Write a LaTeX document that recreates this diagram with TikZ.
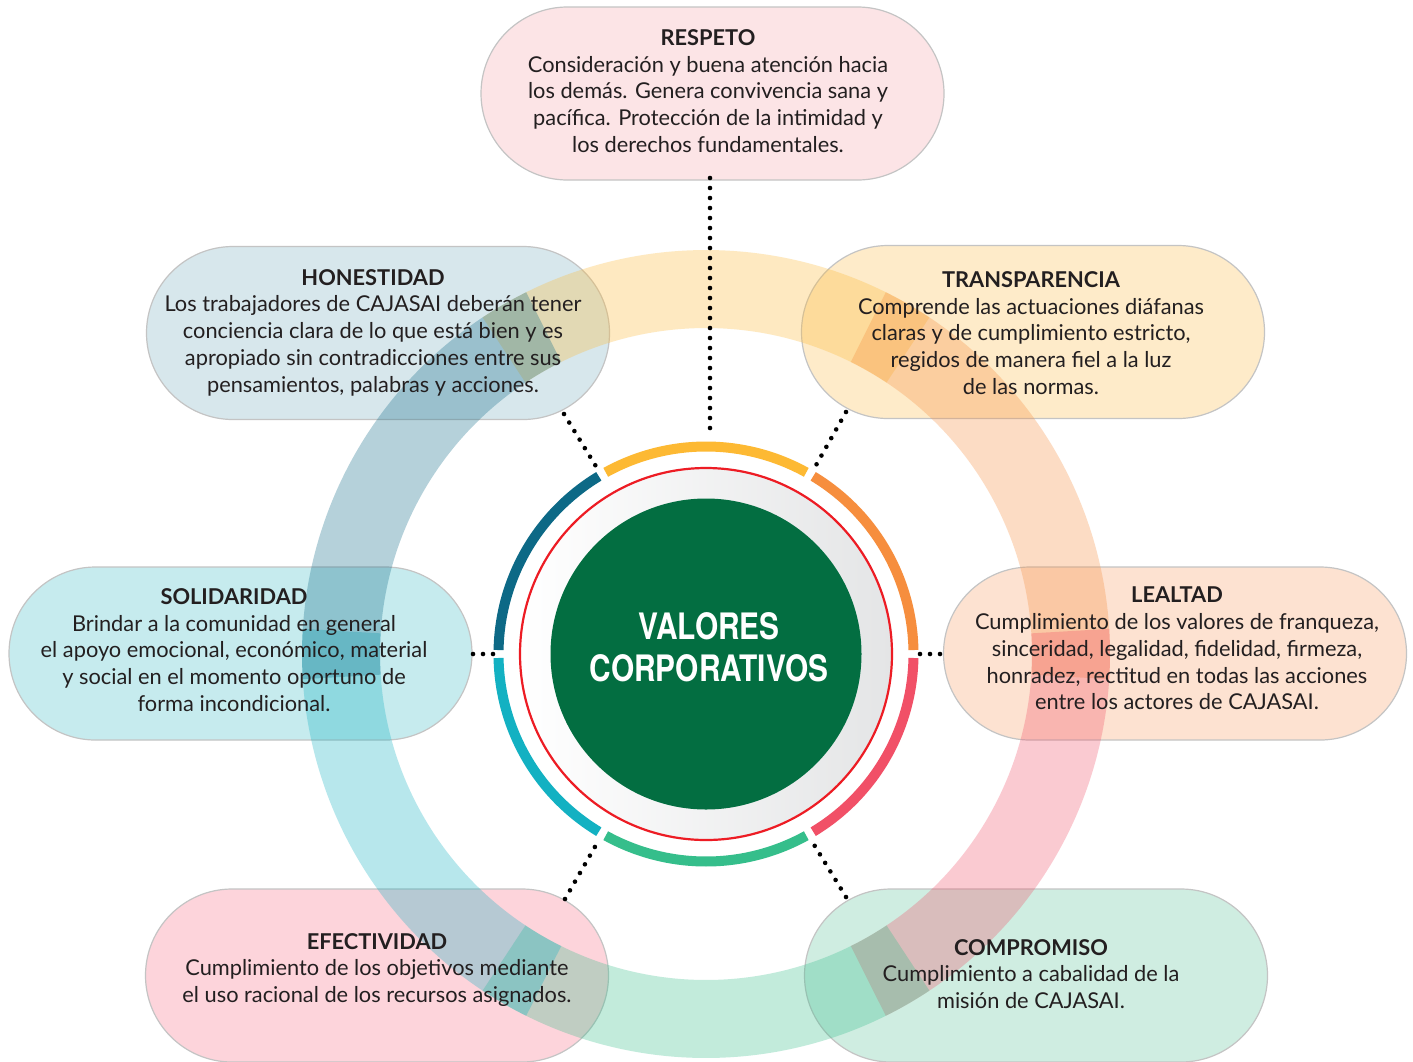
\documentclass[tikz,border=0pt]{standalone}
\usepackage{fontspec}
\setmainfont{Lato}
\newfontfamily\headfont[FakeStretch=0.82]{TeX Gyre Heros}
\usetikzlibrary{shapes.misc}
\definecolor{cyel}{HTML}{FDB933}
\definecolor{cora}{HTML}{F68E3E}
\definecolor{cpink}{HTML}{F15067}
\definecolor{cgrn}{HTML}{35BE8B}
\definecolor{cteal}{HTML}{13B1C2}
\definecolor{cblue}{HTML}{0D6986}
\definecolor{pres}{HTML}{FCE4E6}
\definecolor{phon}{HTML}{D7E7EC}
\definecolor{ptra}{HTML}{FEEBC9}
\definecolor{psol}{HTML}{C6EBEE}
\definecolor{plea}{HTML}{FDE2D1}
\definecolor{pefe}{HTML}{FDD4DB}
\definecolor{pcom}{HTML}{CFEDE1}
\definecolor{pillline}{HTML}{C4C4C4}
\definecolor{txt}{HTML}{231F20}
\definecolor{dgreen}{HTML}{036E41}
\definecolor{cred}{HTML}{ED1C24}
\definecolor{discgrey}{HTML}{E4E5E6}
\begin{document}
\begin{tikzpicture}[x=0.5pt,y=-0.5pt,
  pill/.style={rounded rectangle, draw=pillline, line width=0.6pt, minimum width=231.5pt, minimum height=86.5pt, inner sep=0pt},
  ringseg/.style={line width=39pt, draw opacity=0.3},
  innerarc/.style={line width=5pt},
  dotline/.style={line width=2.3pt, line cap=round, dash pattern=on 0pt off 5pt, draw=black},
  body/.style={align=center, text=txt, font=\fontsize{10.9}{13.35}\selectfont, inner sep=0pt},
  headtext/.style={align=center, text=white, font=\headfont\bfseries\fontsize{18.2}{21}\selectfont, inner sep=0pt}]
\useasboundingbox[fill=white] (0,0) rectangle (1413,1061);
% pills
\node[pill, fill=pres] (respeto) at (712.5,93.5) {};
\node[pill, fill=phon] (honestidad) at (378,333) {};
\node[pill, fill=ptra] (transparencia) at (1033,332) {};
\node[pill, fill=psol] (solidaridad) at (240.5,653.5) {};
\node[pill, fill=plea] (lealtad) at (1175,653.5) {};
\node[pill, fill=pefe] (efectividad) at (377,975.5) {};
\node[pill, fill=pcom] (compromiso) at (1036,975.5) {};
% big translucent ring
\coordinate (c) at (706,654);
\foreach \a/\b/\col in {-120/-60/cyel, -60/0/cora, 0/60/cpink, 60/120/cgrn, 120/180/cteal, 180/240/cblue}{
  \draw[ringseg, draw=\col] ([shift={(c)}]\a-3.6:365) arc[start angle=\a-3.6, end angle=\b+3.6, radius=365];
}
% central disc
\shade[left color=white, right color=discgrey] (c) circle[radius=186];
\draw[cred, line width=1.1pt] (c) circle[radius=186];
\node[circle, fill=dgreen, minimum size=155.5pt, inner sep=0pt] (disc) at (c) {};
% inner coloured arcs
\foreach \a/\b/\col in {-120/-60/cyel, -60/0/cora, 0/60/cpink, 60/120/cgrn, 120/180/cteal, 180/240/cblue}{
  \draw[innerarc, draw=\col] ([shift={(c)}]\a+1.1:207.5) arc[start angle=\a+1.1, end angle=\b-1.1, radius=207.5];
}
% dotted connectors
\coordinate (t1) at (710,178); \coordinate (t2) at (710,436);
\coordinate (ul1) at (564,414); \coordinate (ul2) at (597,468);
\coordinate (ur1) at (846,412); \coordinate (ur2) at (815,467);
\coordinate (l1) at (473,654); \coordinate (l2) at (494,654);
\coordinate (r1) at (940,654); \coordinate (r2) at (920,654);
\coordinate (ll1) at (565,899); \coordinate (ll2) at (596,845);
\coordinate (lr1) at (846,897); \coordinate (lr2) at (813,843);
\draw[dotline] (t1) -- (t2);
\draw[dotline] (ul1) -- (ul2);
\draw[dotline] (ur1) -- (ur2);
\draw[dotline] (l1) -- (l2);
\draw[dotline] (r1) -- (r2);
\draw[dotline] (ll1) -- (ll2);
\draw[dotline] (lr1) -- (lr2);
% centre text
\node[headtext] (vc) at (709,647) {VALORES\\CORPORATIVOS};
% texts
\node[body] (trespeto) at (708,91) {\textbf{RESPETO}\\Consideración y buena atención hacia\\los demás. Genera convivencia sana y\\pacífica. Protección de la intimidad y\\los derechos fundamentales.};
\node[body] (thonestidad) at (373,332.5) {\textbf{HONESTIDAD}\\Los trabajadores de CAJASAI deberán tener\\conciencia clara de lo que está bien y es\\apropiado sin contradicciones entre sus\\pensamientos, palabras y acciones.};
\node[body] (ttransparencia) at (1031,333) {\textbf{TRANSPARENCIA}\\Comprende las actuaciones diáfanas\\claras y de cumplimiento estricto,\\regidos de manera fiel a la luz\\de las normas.};
\node[body] (tsolidaridad) at (234,650) {\textbf{SOLIDARIDAD}\\Brindar a la comunidad en general\\el apoyo emocional, económico, material\\y social en el momento oportuno de\\forma incondicional.};
\node[body] (tlealtad) at (1177,648.5) {\textbf{LEALTAD}\\Cumplimiento de los valores de franqueza,\\sinceridad, legalidad, fidelidad, firmeza,\\honradez, rectitud en todas las acciones\\entre los actores de CAJASAI.};
\node[body] (tefectividad) at (377,970) {\textbf{EFECTIVIDAD}\\Cumplimiento de los objetivos mediante\\el uso racional de los recursos asignados.};
\node[body] (tcompromiso) at (1031,974) {\textbf{COMPROMISO}\\Cumplimiento a cabalidad de la\\misión de CAJASAI.};
\end{tikzpicture}
\end{document}
